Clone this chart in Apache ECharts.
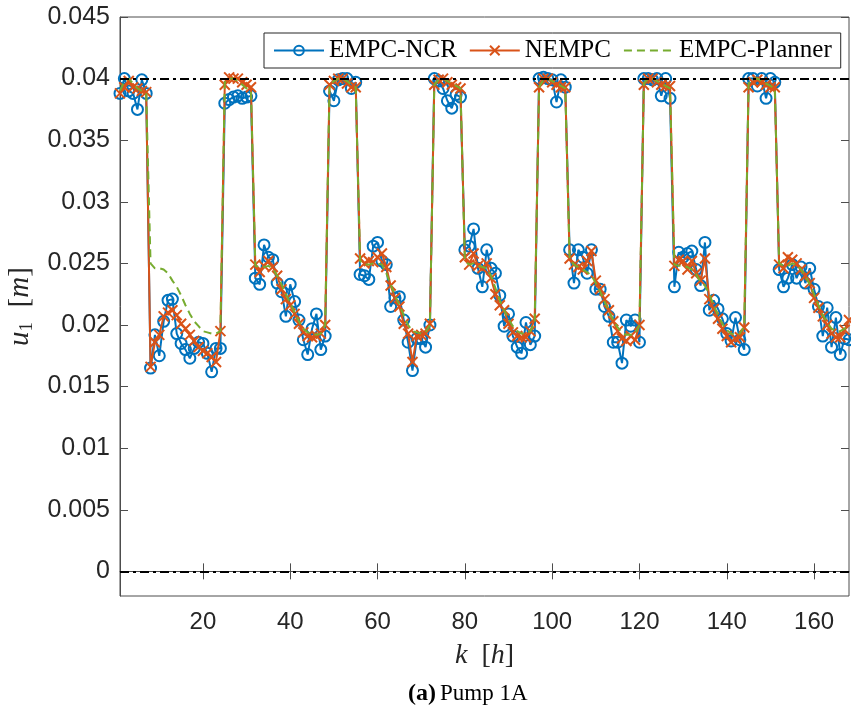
<!DOCTYPE html>
<html>
<head>
<meta charset="utf-8">
<script src="https://cdn.jsdelivr.net/npm/echarts@6/dist/echarts.min.js"></script>
<style>
html,body{margin:0;padding:0;background:#fff;}
#chart{width:851px;height:717px;}
</style>
</head>
<body>
<div id="chart"></div>
<script>
// ---- data ----
var hourStart = 1, hourEnd = 168;
var xTicks = [20, 40, 60, 80, 100, 120, 140, 160];
var yTicks = [0, 0.005, 0.01, 0.015, 0.02, 0.025, 0.03, 0.035, 0.04, 0.045];
var limitValues = [0, 0.04];

var empcNcr = [
 0.0388,0.0400,0.0390,0.0388,0.0375,0.0399,0.0388,
 0.0165,0.0192,0.0175,0.0203,0.0220,0.0221,0.0193,0.0185,0.0180,0.0173,0.0181,0.0186,0.0185,0.0177,0.0162,0.0181,0.0181,
 0.0380,0.0383,0.0385,0.0386,0.0384,0.0385,0.0386,
 0.0238,0.0233,0.0265,0.0255,0.0253,0.0234,0.0227,0.0207,0.0233,0.0219,0.0204,0.0188,0.0176,0.0197,0.0209,0.0180,0.0191,
 0.0390,0.0382,0.0399,0.0400,0.0400,0.0392,0.0397,
 0.0241,0.0240,0.0237,0.0264,0.0267,0.0252,0.0249,0.0215,0.0222,0.0223,0.0204,0.0186,0.0163,0.0189,0.0189,0.0182,0.0200,
 0.0400,0.0398,0.0392,0.0382,0.0376,0.0387,0.0385,
 0.0261,0.0264,0.0278,0.0246,0.0231,0.0261,0.0246,0.0242,0.0224,0.0199,0.0209,0.0191,0.0182,0.0177,0.0202,0.0184,0.0191,
 0.0400,0.0401,0.0400,0.0399,0.0381,0.0399,0.0393,
 0.0261,0.0234,0.0261,0.0255,0.0242,0.0261,0.0229,0.0229,0.0215,0.0207,0.0186,0.0186,0.0169,0.0204,0.0199,0.0204,0.0186,
 0.0400,0.0400,0.0399,0.0400,0.0386,0.0400,0.0384,
 0.0231,0.0259,0.0255,0.0258,0.0260,0.0245,0.0232,0.0267,0.0212,0.0220,0.0213,0.0205,0.0193,0.0187,0.0206,0.0188,0.0180,
 0.0400,0.0400,0.0394,0.0400,0.0384,0.0400,0.0397,
 0.0245,0.0231,0.0238,0.0249,0.0238,0.0247,0.0234,0.0246,0.0229,0.0215,0.0191,0.0214,0.0182,0.0206,0.0176,0.0189,0.0188
];

var nempc = [
 0.0388,0.0393,0.0398,0.0393,0.0392,0.0390,0.0389,
 0.0166,0.0186,0.0192,0.0207,0.0210,0.0212,0.0208,0.0201,0.0197,0.0192,0.0187,0.0182,0.0179,0.0177,0.0174,0.0170,0.0195,
 0.0395,0.0401,0.0400,0.0400,0.0397,0.0395,0.0393,
 0.0249,0.0243,0.0248,0.0252,0.0247,0.0240,0.0229,0.0221,0.0216,0.0209,0.0201,0.0194,0.0191,0.0190,0.0191,0.0193,0.0200,
 0.0395,0.0398,0.0400,0.0400,0.0396,0.0393,0.0393,
 0.0254,0.0250,0.0252,0.0251,0.0255,0.0258,0.0247,0.0232,0.0222,0.0215,0.0201,0.0193,0.0170,0.0191,0.0192,0.0193,0.0201,
 0.0395,0.0399,0.0400,0.0397,0.0395,0.0393,0.0392,
 0.0255,0.0249,0.0258,0.0248,0.0246,0.0250,0.0238,0.0225,0.0216,0.0212,0.0201,0.0194,0.0191,0.0190,0.0190,0.0195,0.0205,
 0.0393,0.0400,0.0400,0.0397,0.0395,0.0393,0.0393,
 0.0254,0.0249,0.0247,0.0245,0.0252,0.0260,0.0236,0.0229,0.0221,0.0212,0.0203,0.0195,0.0189,0.0187,0.0191,0.0188,0.0200,
 0.0395,0.0400,0.0400,0.0397,0.0395,0.0394,0.0394,
 0.0248,0.0253,0.0252,0.0245,0.0252,0.0242,0.0236,0.0254,0.0221,0.0213,0.0205,0.0197,0.0191,0.0186,0.0189,0.0190,0.0198,
 0.0393,0.0397,0.0399,0.0397,0.0395,0.0393,0.0393,
 0.0249,0.0246,0.0255,0.0253,0.0250,0.0245,0.0240,0.0234,0.0222,0.0214,0.0207,0.0200,0.0193,0.0190,0.0190,0.0196,0.0204
];

var empcPlanner = [
 0.0390,0.0398,0.0400,0.0396,0.0392,0.0390,0.0388,
 0.0250,0.0246,0.0246,0.0245,0.0242,0.0236,0.0231,0.0224,0.0216,0.0209,0.0203,0.0199,0.0195,0.0194,0.0193,0.0193,0.0195,
 0.0397,0.0400,0.0400,0.0398,0.0395,0.0392,0.0390,
 0.0248,0.0247,0.0247,0.0248,0.0246,0.0240,0.0233,0.0225,0.0218,0.0210,0.0203,0.0197,0.0194,0.0193,0.0192,0.0193,0.0200,
 0.0395,0.0398,0.0400,0.0400,0.0398,0.0395,0.0393,
 0.0252,0.0249,0.0249,0.0250,0.0250,0.0249,0.0242,0.0233,0.0224,0.0216,0.0208,0.0200,0.0195,0.0194,0.0193,0.0194,0.0200,
 0.0395,0.0399,0.0400,0.0398,0.0396,0.0394,0.0392,
 0.0252,0.0249,0.0250,0.0248,0.0247,0.0246,0.0240,0.0230,0.0220,0.0212,0.0205,0.0199,0.0195,0.0193,0.0193,0.0195,0.0202,
 0.0393,0.0399,0.0400,0.0398,0.0396,0.0394,0.0392,
 0.0254,0.0249,0.0247,0.0245,0.0243,0.0240,0.0234,0.0227,0.0219,0.0211,0.0204,0.0198,0.0194,0.0192,0.0192,0.0193,0.0200,
 0.0396,0.0400,0.0400,0.0398,0.0396,0.0394,0.0392,
 0.0249,0.0248,0.0248,0.0247,0.0245,0.0241,0.0235,0.0232,0.0225,0.0216,0.0208,0.0201,0.0196,0.0193,0.0192,0.0193,0.0199,
 0.0396,0.0400,0.0400,0.0398,0.0396,0.0394,0.0392,
 0.0250,0.0248,0.0248,0.0250,0.0249,0.0245,0.0240,0.0233,0.0225,0.0216,0.0208,0.0202,0.0197,0.0195,0.0195,0.0197,0.0200
];

// ---- build ----
function pairs(arr){ return arr.map(function(v,i){ return [hourStart + i, v]; }); }

var axisCol = '#4d4d4d';
var labelCol = '#262626';
var sans = 'Liberation Sans';
var serif = 'Liberation Serif';

var chart = echarts.init(document.getElementById('chart'), null, {renderer:'canvas'});
var option = {
  backgroundColor: '#fff',
  animation: false,
  grid: { left: 120, right: 2, top: 17, bottom: 121, containLabel: false, outerBoundsMode: 'none',
          show: true, borderColor: axisCol, borderWidth: 1, backgroundColor: 'transparent' },
  legend: {
    left: 264, top: 33,
    orient: 'horizontal',
    padding: [5, 9, 5, 9],
    itemGap: 12,
    itemWidth: 50, itemHeight: 12,
    borderColor: '#262626', borderWidth: 1, backgroundColor: '#fff',
    textStyle: { fontFamily: serif, fontSize: 25, color: '#000' },
    data: ['EMPC-NCR', 'NEMPC', { name: 'EMPC-Planner', itemStyle: { opacity: 0 } }]
  },
  xAxis: [{
    type: 'value', min: hourStart, max: hourEnd, position: 'bottom',
    name: '{i|k}{r|  [}{i|h}{r|]}', nameLocation: 'middle', nameGap: 46,
    nameTextStyle: { rich: { i: { fontFamily: serif, fontStyle: 'italic', fontSize: 28, color: labelCol }, r: { fontFamily: serif, fontSize: 28, color: labelCol } } },
    axisLine: { show: true, lineStyle: { color: axisCol } },
    axisTick: { show: true, inside: true, length: 8, customValues: xTicks, lineStyle: { color: axisCol } },
    axisLabel: { customValues: xTicks, fontFamily: sans, fontSize: 24, color: labelCol, margin: 14 },
    splitLine: { show: false }
  }, {
    type: 'value', min: hourStart, max: hourEnd, position: 'top',
    axisLine: { show: false },
    axisTick: { show: true, inside: true, length: 8, customValues: xTicks, lineStyle: { color: axisCol } },
    axisLabel: { show: false },
    splitLine: { show: false }
  }],
  yAxis: [{
    type: 'value', min: -0.002, max: 0.045, position: 'left',
    name: '{i|u}{s|1}{r|  [}{i|m}{r|]}', nameLocation: 'middle', nameGap: 83, nameRotate: 90,
    nameTextStyle: { rich: { i: { fontFamily: serif, fontStyle: 'italic', fontSize: 29, color: labelCol }, s: { fontFamily: serif, fontSize: 19, color: labelCol, verticalAlign: 'bottom', padding: [14,0,0,0] }, r: { fontFamily: serif, fontSize: 29, color: labelCol } } },
    axisLine: { show: true, lineStyle: { color: axisCol } },
    axisTick: { show: true, inside: true, length: 8, customValues: yTicks, lineStyle: { color: axisCol } },
    axisLabel: { customValues: yTicks, fontFamily: sans, fontSize: 25, color: labelCol, margin: 10,
      formatter: function(v){ return String(+v.toFixed(3)); } },
    splitLine: { show: false }
  }, {
    type: 'value', min: -0.002, max: 0.045, position: 'right',
    axisLine: { show: false },
    axisTick: { show: true, inside: true, length: 8, customValues: yTicks, lineStyle: { color: axisCol } },
    axisLabel: { show: false },
    splitLine: { show: false }
  }],
  series: [{
    name: 'EMPC-NCR', type: 'line', data: pairs(empcNcr),
    symbol: 'circle', symbolSize: 11, showAllSymbol: true,
    lineStyle: { color: '#0072BD', width: 2 },
    itemStyle: { color: 'rgba(255,255,255,0)', borderColor: '#0072BD', borderWidth: 2 },
    z: 2,
    markLine: {
      silent: true, symbol: 'none', label: { show: false },
      lineStyle: { color: '#000', width: 2, type: [9, 4, 3, 4] },
      data: limitValues.map(function(v){ return { yAxis: v }; })
    }
  }, {
    name: 'NEMPC', type: 'line', data: pairs(nempc),
    symbol: 'path://M0,0L10,10M10,0L0,10', symbolSize: 10, showAllSymbol: true,
    lineStyle: { color: '#D95319', width: 2 },
    itemStyle: { color: '#D95319', borderColor: '#D95319', borderWidth: 2 },
    z: 3
  }, {
    name: 'EMPC-Planner', type: 'line', data: pairs(empcPlanner),
    symbol: 'none', showSymbol: false,
    lineStyle: { color: '#77AC30', width: 2, type: [8, 5] },
    itemStyle: { color: '#77AC30' },
    z: 4
  }],
  graphic: [{
    type: 'text', left: 408, top: 682,
    style: {
      text: '{b|(a)}{n|Pump 1A}',
      rich: {
        b: { fontFamily: serif, fontWeight: 'bold', fontSize: 24, fill: '#000', padding: [0, 4, 0, 0] },
        n: { fontFamily: serif, fontSize: 23, fill: '#000' }
      }
    }
  }]
};
chart.setOption(option);
</script>
</body>
</html>
